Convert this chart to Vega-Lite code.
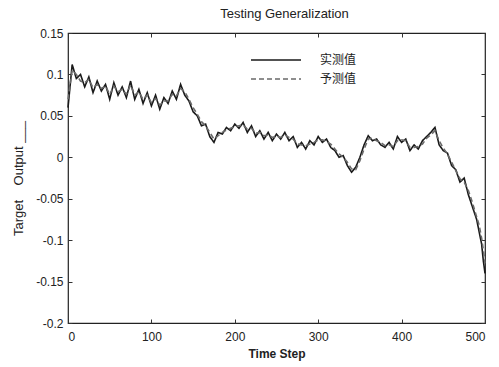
{
  "$schema": "https://vega.github.io/schema/vega-lite/v6.json",
  "autosize": "none",
  "width": 417,
  "height": 290,
  "padding": {"left": 68, "top": 33, "right": 14, "bottom": 44},
  "background": "white",
  "config": {
    "view": {"stroke": "#222", "strokeWidth": 1.2},
    "font": "Liberation Sans",
    "axis": {"grid": false, "domain": false, "tickColor": "#333", "labelColor": "#222", "labelFontSize": 12, "titleColor": "#222", "titleFontSize": 13, "titleFontWeight": "normal"}
  },
  "title": {"text": "Testing Generalization", "fontSize": 13, "fontWeight": "normal", "font": "Liberation Sans", "color": "#222", "offset": 6, "dx": 8},
  "data": {"values": [
    {"t":0,"a":0.060,"p":0.070},{"t":5,"a":0.112,"p":0.105},{"t":10,"a":0.095,"p":0.100},{"t":15,"a":0.100,"p":0.092},
    {"t":20,"a":0.085,"p":0.090},{"t":25,"a":0.097,"p":0.094},{"t":30,"a":0.078,"p":0.084},{"t":35,"a":0.092,"p":0.088},
    {"t":40,"a":0.080,"p":0.083},{"t":45,"a":0.088,"p":0.086},{"t":50,"a":0.070,"p":0.076},{"t":55,"a":0.090,"p":0.086},
    {"t":60,"a":0.075,"p":0.079},{"t":65,"a":0.085,"p":0.082},{"t":70,"a":0.072,"p":0.076},{"t":75,"a":0.092,"p":0.087},
    {"t":80,"a":0.070,"p":0.075},{"t":85,"a":0.082,"p":0.079},{"t":90,"a":0.065,"p":0.070},{"t":95,"a":0.078,"p":0.075},
    {"t":100,"a":0.062,"p":0.066},{"t":105,"a":0.075,"p":0.071},{"t":110,"a":0.058,"p":0.063},{"t":115,"a":0.072,"p":0.068},
    {"t":120,"a":0.065,"p":0.068},{"t":125,"a":0.080,"p":0.076},{"t":130,"a":0.070,"p":0.074},{"t":135,"a":0.088,"p":0.083},
    {"t":140,"a":0.075,"p":0.079},{"t":145,"a":0.068,"p":0.070},{"t":150,"a":0.055,"p":0.060},{"t":155,"a":0.050,"p":0.052},
    {"t":160,"a":0.038,"p":0.043},{"t":165,"a":0.040,"p":0.038},{"t":170,"a":0.025,"p":0.030},{"t":175,"a":0.018,"p":0.022},
    {"t":180,"a":0.030,"p":0.026},{"t":185,"a":0.028,"p":0.030},{"t":190,"a":0.036,"p":0.033},{"t":195,"a":0.032,"p":0.035},
    {"t":200,"a":0.040,"p":0.037},{"t":205,"a":0.035,"p":0.038},{"t":210,"a":0.042,"p":0.039},{"t":215,"a":0.030,"p":0.034},
    {"t":220,"a":0.038,"p":0.035},{"t":225,"a":0.025,"p":0.029},{"t":230,"a":0.032,"p":0.030},{"t":235,"a":0.022,"p":0.026},
    {"t":240,"a":0.030,"p":0.027},{"t":245,"a":0.020,"p":0.024},{"t":250,"a":0.028,"p":0.025},{"t":255,"a":0.022,"p":0.024},
    {"t":260,"a":0.030,"p":0.027},{"t":265,"a":0.020,"p":0.024},{"t":270,"a":0.025,"p":0.022},{"t":275,"a":0.012,"p":0.016},
    {"t":280,"a":0.018,"p":0.015},{"t":285,"a":0.010,"p":0.014},{"t":290,"a":0.020,"p":0.016},{"t":295,"a":0.015,"p":0.018},
    {"t":300,"a":0.025,"p":0.021},{"t":305,"a":0.018,"p":0.021},{"t":310,"a":0.022,"p":0.019},{"t":315,"a":0.012,"p":0.016},
    {"t":320,"a":0.008,"p":0.010},{"t":325,"a":0.000,"p":0.004},{"t":330,"a":0.002,"p":0.000},{"t":335,"a":-0.010,"p":-0.006},
    {"t":340,"a":-0.018,"p":-0.014},{"t":345,"a":-0.012,"p":-0.015},{"t":350,"a":0.000,"p":-0.004},{"t":355,"a":0.015,"p":0.010},
    {"t":360,"a":0.026,"p":0.022},{"t":365,"a":0.020,"p":0.023},{"t":370,"a":0.022,"p":0.020},{"t":375,"a":0.015,"p":0.018},
    {"t":380,"a":0.012,"p":0.014},{"t":385,"a":0.018,"p":0.015},{"t":390,"a":0.010,"p":0.013},{"t":395,"a":0.025,"p":0.020},
    {"t":400,"a":0.018,"p":0.021},{"t":405,"a":0.022,"p":0.020},{"t":410,"a":0.008,"p":0.012},{"t":415,"a":0.015,"p":0.012},
    {"t":420,"a":0.010,"p":0.013},{"t":425,"a":0.020,"p":0.016},{"t":430,"a":0.025,"p":0.023},{"t":435,"a":0.030,"p":0.027},
    {"t":440,"a":0.036,"p":0.032},{"t":445,"a":0.015,"p":0.020},{"t":450,"a":0.008,"p":0.011},{"t":455,"a":0.005,"p":0.004},
    {"t":460,"a":-0.010,"p":-0.006},{"t":465,"a":-0.015,"p":-0.016},{"t":470,"a":-0.030,"p":-0.026},{"t":475,"a":-0.025,"p":-0.030},
    {"t":480,"a":-0.045,"p":-0.040},{"t":485,"a":-0.060,"p":-0.055},{"t":490,"a":-0.075,"p":-0.072},{"t":493,"a":-0.090,"p":-0.082},
    {"t":496,"a":-0.105,"p":-0.098},{"t":498,"a":-0.125,"p":-0.112},{"t":500,"a":-0.140,"p":-0.128}
  ]},
  "transform": [{"fold": ["a", "p"], "as": ["s", "v"]}],
  "layer": [
    {
      "mark": {"type": "line", "strokeWidth": 1.6},
      "encoding": {
        "x": {"field": "t", "type": "quantitative", "scale": {"domain": [0, 500], "nice": false},
              "axis": {"values": [0, 100, 200, 300, 400, 500], "tickSize": -4, "labelPadding": 12, "title": "Time Step", "titleFontWeight": "bold", "titleFontSize": 12, "titlePadding": 6}},
        "y": {"field": "v", "type": "quantitative", "scale": {"domain": [-0.2, 0.15], "nice": false, "zero": false},
              "axis": {"values": [-0.2, -0.15, -0.1, -0.05, 0, 0.05, 0.1, 0.15], "tickSize": -4, "labelPadding": 9,
                       "labelExpr": "replace(format(datum.value, '~g'), '−', '-')",
                       "title": "Target\u00a0\u00a0\u00a0\u00a0Output\u00a0___", "titlePadding": 10}},
        "color": {"field": "s", "type": "nominal", "scale": {"domain": ["a", "p"], "range": ["#1a1a1a", "#6a6a6a"]},
                  "legend": {"orient": "none", "legendX": 202, "legendY": 21, "title": null, "symbolType": "M-5,0H5", "symbolSize": 100, "symbolStrokeWidth": 1.5,
                             "labelExpr": "datum.label == 'a' ? '实测值' : '予测值'", "labelFont": "Noto Sans CJK SC", "labelFontSize": 12, "labelColor": "#222", "rowPadding": 7, "labelOffset": 38}},
        "strokeDash": {"field": "s", "type": "nominal", "scale": {"domain": ["a", "p"], "range": [[1, 0], [5, 3]]}, "legend": null}
      }
    },
    {
      "mark": {"type": "line", "opacity": 0},
      "encoding": {
        "x": {"field": "t", "type": "quantitative", "axis": {"orient": "top", "values": [0, 100, 200, 300, 400, 500], "tickSize": -4, "labels": false, "title": null}},
        "y": {"field": "v", "type": "quantitative", "axis": {"orient": "right", "values": [-0.2, -0.15, -0.1, -0.05, 0, 0.05, 0.1, 0.15], "tickSize": -4, "labels": false, "title": null}},
        "detail": {"field": "s"}
      }
    }
  ],
  "resolve": {"axis": {"x": "independent", "y": "independent"}}
}
